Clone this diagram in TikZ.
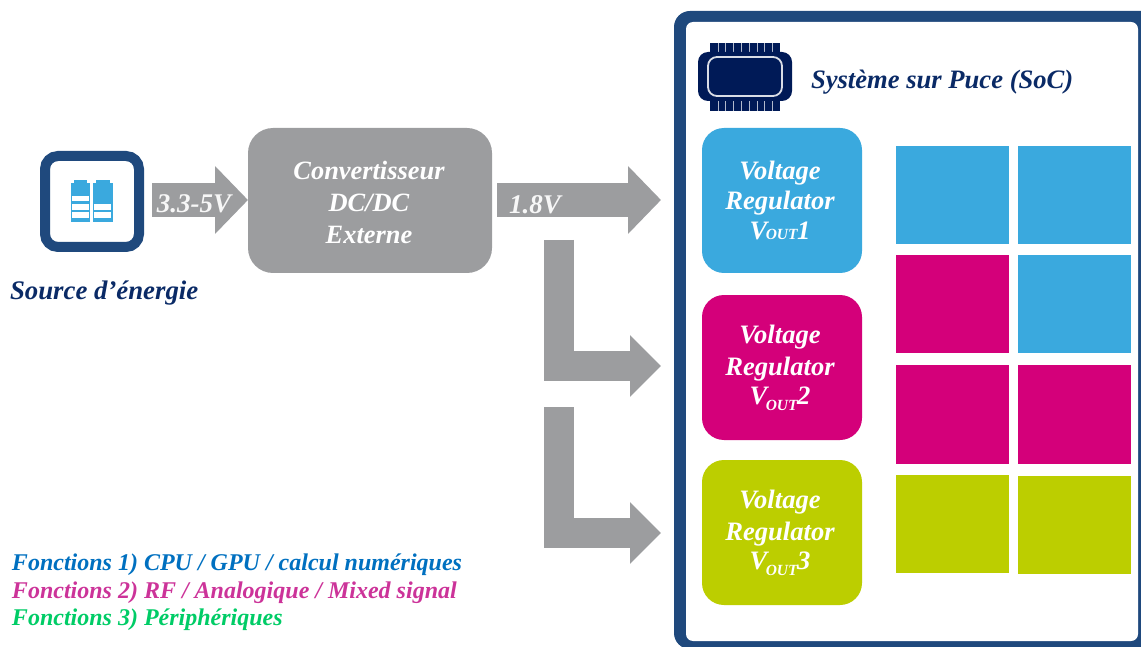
\documentclass[tikz,border=0pt]{standalone}
\usepackage{fontspec}
\setmainfont{Liberation Serif}
\usetikzlibrary{arrows.meta}
\definecolor{navy}{HTML}{1F497D}
\definecolor{deep}{HTML}{001A57}
\definecolor{titleblue}{HTML}{0A2A66}
\definecolor{sky}{HTML}{3AA9DE}
\definecolor{mag}{HTML}{D4007A}
\definecolor{lime}{HTML}{BCCE00}
\definecolor{steel}{HTML}{9C9D9F}
\tikzset{
  x=1pt,y=-1pt,
  box/.style n args={2}{anchor=north west,inner sep=0pt,outer sep=0pt,minimum width=#1,minimum height=#2},
  lab/.style={inner sep=0pt,outer sep=0pt,font=\bfseries\itshape},
  whitelab/.style={lab,text=white,align=center},
  regulator/.style={box={160pt}{145pt},rounded corners=22pt,draw=none},
  tile/.style={box={113pt}{98pt},draw=none},
  wide/.style={draw=steel,line width=34pt,-{Triangle[length=33pt,width=66pt]}},
  bent/.style={draw=steel,line width=30pt,-{Triangle[length=31pt,width=60pt]}},
}
\newcommand{\vout}[2]{V\kern-1.5pt\raisebox{#2}{\fontsize{15.5}{15.5}\selectfont OUT}\kern-0.5pt#1}
\begin{document}
\begin{tikzpicture}
\useasboundingbox (0,0) rectangle (1141,647);
\clip (0,0) rectangle (1141,647);
% SoC frame
\node[box={500pt}{638pt},fill=navy,rounded corners=16pt] (socframe) at (674,11) {};
\node[box={452pt}{619pt},fill=white,rounded corners=7pt] (socinner) at (686,22) {};
% chip icon
\node[box={70pt}{68pt},fill=deep] (pins) at (710,43) {};
\foreach \i in {1,...,8}{
  \draw[white!70!deep,line width=0.6pt] (710+\i*7.8,43) -- (710+\i*7.8,111);
}
\node[box={94pt}{49pt},fill=deep,rounded corners=10pt] (chip) at (698,52) {};
\node[box={74pt}{39pt},draw=white!85!deep,line width=1.8pt,rounded corners=9pt] (chipcore) at (708,57) {};
\node[lab,text=titleblue,anchor=base west,font=\fontsize{26.6}{30}\selectfont\bfseries\itshape] (soctitle) at (811,89) {Système sur Puce (SoC)};
% source icon
\node[box={94pt}{91pt},draw=navy,line width=10pt,fill=white,rounded corners=13pt] (source) at (45,156) {};
\node[box={19pt}{39pt},fill=sky] (batl) at (71,183) {};
\node[box={20pt}{39pt},fill=sky] (batr) at (93,183) {};
\node[box={13pt}{5pt},fill=sky] (capl) at (74,180) {};
\node[box={14pt}{5pt},fill=sky] (capr) at (96,180) {};
\node[box={17pt}{5.5pt},fill=white] (bl1) at (72,196) {};
\node[box={17pt}{6pt},fill=white] (bl2) at (72,204) {};
\node[box={17pt}{6pt},fill=white] (bl3) at (72,212) {};
\node[box={17pt}{6pt},fill=white] (br2) at (94,204) {};
\node[box={17pt}{6pt},fill=white] (br3) at (94,212) {};
\node[lab,text=titleblue,anchor=base west,font=\fontsize{26.8}{30}\selectfont\bfseries\itshape] (sourcelab) at (10,299) {Source d’énergie};
% converter
\node[box={244pt}{145pt},fill=steel,rounded corners=25pt] (conv) at (248,128) {};
\node[whitelab,font=\fontsize{26.4}{32}\selectfont\bfseries\itshape] (convlab) at (369,202.5) {Convertisseur\\DC/DC\\Externe};
% regulators
\node[regulator,fill=sky] (r1) at (702,128) {};
\node[regulator,fill=mag] (r2) at (702,295) {};
\node[regulator,fill=lime] (r3) at (702,460) {};
\node[whitelab,font=\fontsize{26.6}{30}\selectfont\bfseries\itshape] (r1lab) at (780,200) {Voltage\\Regulator\\\vout{1}{0pt}};
\node[whitelab,font=\fontsize{26.6}{30.5}\selectfont\bfseries\itshape] (r2lab) at (780,368) {Voltage\\[1.5pt]Regulator\\[-1pt]\vout{2}{-6pt}};
\node[whitelab,font=\fontsize{26.6}{30.5}\selectfont\bfseries\itshape] (r3lab) at (780,533) {Voltage\\[1.5pt]Regulator\\[-1pt]\vout{3}{-6pt}};
% tiles
\node[tile,fill=sky] (t11) at (896,146) {};
\node[tile,fill=sky] (t12) at (1018,146) {};
\node[tile,fill=mag] (t21) at (896,255) {};
\node[tile,fill=sky] (t22) at (1018,255) {};
\node[tile,fill=mag,minimum height=99pt] (t31) at (896,365) {};
\node[tile,fill=mag,minimum height=99pt] (t32) at (1018,365) {};
\node[tile,fill=lime] (t41) at (896,475) {};
\node[tile,fill=lime] (t42) at (1018,476) {};
% arrows
\coordinate (a1s) at (152,200);
\coordinate (a2s) at (497,200);
\coordinate (a2e) at (661,200);
\coordinate (a3s) at (559,240);
\coordinate (a3e) at (661,366);
\coordinate (a4s) at (559,407);
\coordinate (a4e) at (661,533);
\draw[wide] (a1s) -- (a1s -| conv.west);
\draw[wide] (a2s) -- (a2e);
\draw[bent] (a3s) |- (a3e);
\draw[bent] (a4s) |- (a4e);
\node[whitelab,font=\fontsize{27}{28}\selectfont\bfseries\itshape,text=white!92!steel] (l33) at (194,204) {3.3-5V};
\node[whitelab,font=\fontsize{27}{28}\selectfont\bfseries\itshape,text=white!92!steel] (l18) at (535,205) {1.8V};
% legend
\node[lab,anchor=base west,text={rgb,255:red,0;green,112;blue,192},font=\fontsize{24}{26}\selectfont\bfseries\itshape] (f1) at (12,570) {Fonctions 1) CPU / GPU / calcul numériques};
\node[lab,anchor=base west,text={rgb,255:red,204;green,51;blue,153},font=\fontsize{24}{26}\selectfont\bfseries\itshape] (f2) at (12,598) {Fonctions 2) RF / Analogique / Mixed signal};
\node[lab,anchor=base west,text={rgb,255:red,0;green,204;blue,102},font=\fontsize{24}{26}\selectfont\bfseries\itshape] (f3) at (12,625) {Fonctions 3) Périphériques};
\end{tikzpicture}
\end{document}
